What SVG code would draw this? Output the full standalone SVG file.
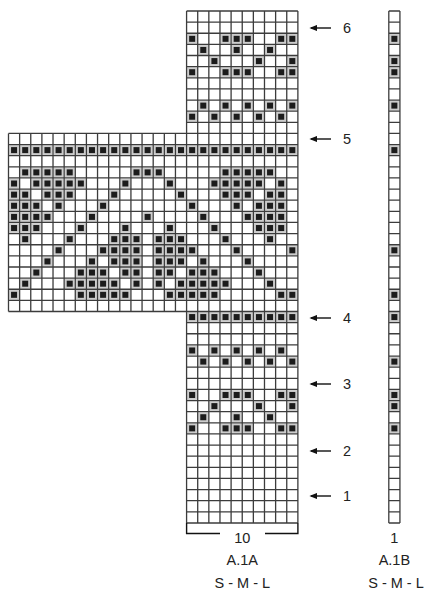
<svg xmlns="http://www.w3.org/2000/svg" xmlns:xlink="http://www.w3.org/1999/xlink" width="440" height="600" viewBox="0 0 440 600">
<style>
.grid{fill:none;stroke:#3c3c3c;stroke-width:1.3}
.t{font-family:"Liberation Sans",Arial,sans-serif;font-size:14.5px;fill:#222;text-anchor:middle}
.arr{stroke:#111;stroke-width:1.4;fill:none}
</style>
<defs>
<g id="m"><rect x="0.06" y="0.06" width="0.88" height="0.88" fill="#cdcdcd"/><rect x="0.23" y="0.23" width="0.54" height="0.54" fill="#1c1c1c"/></g>
<marker id="ah" viewBox="0 0 10 8" refX="8" refY="4" markerWidth="8" markerHeight="6.4" markerUnits="userSpaceOnUse" orient="auto"><path d="M0 0L10 4L0 8z" fill="#111"/></marker>
</defs>
<rect width="440" height="600" fill="#fff"/>
<g id="chartA1A" transform="translate(8.5 11) scale(11.13)">
<g id="marksA">
<use href="#m" x="16" y="2"/><use href="#m" x="19" y="2"/><use href="#m" x="20" y="2"/><use href="#m" x="21" y="2"/><use href="#m" x="24" y="2"/><use href="#m" x="25" y="2"/>
<use href="#m" x="17" y="3"/><use href="#m" x="20" y="3"/><use href="#m" x="23" y="3"/>
<use href="#m" x="18" y="4"/><use href="#m" x="22" y="4"/><use href="#m" x="25" y="4"/>
<use href="#m" x="16" y="5"/><use href="#m" x="19" y="5"/><use href="#m" x="20" y="5"/><use href="#m" x="21" y="5"/><use href="#m" x="24" y="5"/><use href="#m" x="25" y="5"/>
<use href="#m" x="17" y="8"/><use href="#m" x="19" y="8"/><use href="#m" x="21" y="8"/><use href="#m" x="23" y="8"/><use href="#m" x="25" y="8"/>
<use href="#m" x="16" y="9"/><use href="#m" x="18" y="9"/><use href="#m" x="20" y="9"/><use href="#m" x="22" y="9"/><use href="#m" x="24" y="9"/>
<use href="#m" x="0" y="12"/><use href="#m" x="1" y="12"/><use href="#m" x="2" y="12"/><use href="#m" x="3" y="12"/><use href="#m" x="4" y="12"/><use href="#m" x="5" y="12"/><use href="#m" x="6" y="12"/><use href="#m" x="7" y="12"/><use href="#m" x="8" y="12"/><use href="#m" x="9" y="12"/><use href="#m" x="10" y="12"/><use href="#m" x="11" y="12"/><use href="#m" x="12" y="12"/><use href="#m" x="13" y="12"/><use href="#m" x="14" y="12"/><use href="#m" x="15" y="12"/><use href="#m" x="16" y="12"/><use href="#m" x="17" y="12"/><use href="#m" x="18" y="12"/><use href="#m" x="19" y="12"/><use href="#m" x="20" y="12"/><use href="#m" x="21" y="12"/><use href="#m" x="22" y="12"/><use href="#m" x="23" y="12"/><use href="#m" x="24" y="12"/><use href="#m" x="25" y="12"/>
<use href="#m" x="1" y="14"/><use href="#m" x="2" y="14"/><use href="#m" x="3" y="14"/><use href="#m" x="4" y="14"/><use href="#m" x="5" y="14"/><use href="#m" x="11" y="14"/><use href="#m" x="12" y="14"/><use href="#m" x="13" y="14"/><use href="#m" x="19" y="14"/><use href="#m" x="20" y="14"/><use href="#m" x="21" y="14"/><use href="#m" x="22" y="14"/><use href="#m" x="23" y="14"/>
<use href="#m" x="0" y="15"/><use href="#m" x="2" y="15"/><use href="#m" x="3" y="15"/><use href="#m" x="4" y="15"/><use href="#m" x="5" y="15"/><use href="#m" x="6" y="15"/><use href="#m" x="10" y="15"/><use href="#m" x="14" y="15"/><use href="#m" x="18" y="15"/><use href="#m" x="19" y="15"/><use href="#m" x="20" y="15"/><use href="#m" x="21" y="15"/><use href="#m" x="22" y="15"/><use href="#m" x="24" y="15"/>
<use href="#m" x="0" y="16"/><use href="#m" x="1" y="16"/><use href="#m" x="3" y="16"/><use href="#m" x="4" y="16"/><use href="#m" x="5" y="16"/><use href="#m" x="9" y="16"/><use href="#m" x="15" y="16"/><use href="#m" x="19" y="16"/><use href="#m" x="20" y="16"/><use href="#m" x="21" y="16"/><use href="#m" x="23" y="16"/><use href="#m" x="24" y="16"/>
<use href="#m" x="0" y="17"/><use href="#m" x="1" y="17"/><use href="#m" x="2" y="17"/><use href="#m" x="4" y="17"/><use href="#m" x="8" y="17"/><use href="#m" x="16" y="17"/><use href="#m" x="20" y="17"/><use href="#m" x="22" y="17"/><use href="#m" x="23" y="17"/><use href="#m" x="24" y="17"/>
<use href="#m" x="0" y="18"/><use href="#m" x="1" y="18"/><use href="#m" x="2" y="18"/><use href="#m" x="3" y="18"/><use href="#m" x="7" y="18"/><use href="#m" x="12" y="18"/><use href="#m" x="17" y="18"/><use href="#m" x="21" y="18"/><use href="#m" x="22" y="18"/><use href="#m" x="23" y="18"/><use href="#m" x="24" y="18"/>
<use href="#m" x="0" y="19"/><use href="#m" x="1" y="19"/><use href="#m" x="2" y="19"/><use href="#m" x="6" y="19"/><use href="#m" x="10" y="19"/><use href="#m" x="14" y="19"/><use href="#m" x="18" y="19"/><use href="#m" x="22" y="19"/><use href="#m" x="23" y="19"/><use href="#m" x="24" y="19"/>
<use href="#m" x="1" y="20"/><use href="#m" x="5" y="20"/><use href="#m" x="9" y="20"/><use href="#m" x="10" y="20"/><use href="#m" x="11" y="20"/><use href="#m" x="13" y="20"/><use href="#m" x="14" y="20"/><use href="#m" x="15" y="20"/><use href="#m" x="19" y="20"/><use href="#m" x="23" y="20"/>
<use href="#m" x="4" y="21"/><use href="#m" x="8" y="21"/><use href="#m" x="9" y="21"/><use href="#m" x="10" y="21"/><use href="#m" x="11" y="21"/><use href="#m" x="13" y="21"/><use href="#m" x="14" y="21"/><use href="#m" x="15" y="21"/><use href="#m" x="16" y="21"/><use href="#m" x="20" y="21"/><use href="#m" x="25" y="21"/>
<use href="#m" x="3" y="22"/><use href="#m" x="7" y="22"/><use href="#m" x="9" y="22"/><use href="#m" x="10" y="22"/><use href="#m" x="11" y="22"/><use href="#m" x="13" y="22"/><use href="#m" x="14" y="22"/><use href="#m" x="15" y="22"/><use href="#m" x="17" y="22"/><use href="#m" x="21" y="22"/>
<use href="#m" x="2" y="23"/><use href="#m" x="6" y="23"/><use href="#m" x="7" y="23"/><use href="#m" x="8" y="23"/><use href="#m" x="10" y="23"/><use href="#m" x="11" y="23"/><use href="#m" x="13" y="23"/><use href="#m" x="14" y="23"/><use href="#m" x="16" y="23"/><use href="#m" x="17" y="23"/><use href="#m" x="18" y="23"/><use href="#m" x="22" y="23"/>
<use href="#m" x="1" y="24"/><use href="#m" x="5" y="24"/><use href="#m" x="6" y="24"/><use href="#m" x="7" y="24"/><use href="#m" x="8" y="24"/><use href="#m" x="9" y="24"/><use href="#m" x="11" y="24"/><use href="#m" x="13" y="24"/><use href="#m" x="15" y="24"/><use href="#m" x="16" y="24"/><use href="#m" x="17" y="24"/><use href="#m" x="18" y="24"/><use href="#m" x="19" y="24"/><use href="#m" x="23" y="24"/>
<use href="#m" x="0" y="25"/><use href="#m" x="6" y="25"/><use href="#m" x="7" y="25"/><use href="#m" x="8" y="25"/><use href="#m" x="9" y="25"/><use href="#m" x="10" y="25"/><use href="#m" x="14" y="25"/><use href="#m" x="15" y="25"/><use href="#m" x="16" y="25"/><use href="#m" x="17" y="25"/><use href="#m" x="18" y="25"/><use href="#m" x="24" y="25"/><use href="#m" x="25" y="25"/>
<use href="#m" x="16" y="27"/><use href="#m" x="17" y="27"/><use href="#m" x="18" y="27"/><use href="#m" x="19" y="27"/><use href="#m" x="20" y="27"/><use href="#m" x="21" y="27"/><use href="#m" x="22" y="27"/><use href="#m" x="23" y="27"/><use href="#m" x="24" y="27"/><use href="#m" x="25" y="27"/>
<use href="#m" x="16" y="30"/><use href="#m" x="18" y="30"/><use href="#m" x="20" y="30"/><use href="#m" x="22" y="30"/><use href="#m" x="24" y="30"/>
<use href="#m" x="17" y="31"/><use href="#m" x="19" y="31"/><use href="#m" x="21" y="31"/><use href="#m" x="23" y="31"/><use href="#m" x="25" y="31"/>
<use href="#m" x="16" y="34"/><use href="#m" x="19" y="34"/><use href="#m" x="20" y="34"/><use href="#m" x="21" y="34"/><use href="#m" x="24" y="34"/><use href="#m" x="25" y="34"/>
<use href="#m" x="18" y="35"/><use href="#m" x="22" y="35"/><use href="#m" x="25" y="35"/>
<use href="#m" x="17" y="36"/><use href="#m" x="20" y="36"/><use href="#m" x="23" y="36"/>
<use href="#m" x="16" y="37"/><use href="#m" x="19" y="37"/><use href="#m" x="20" y="37"/><use href="#m" x="21" y="37"/><use href="#m" x="24" y="37"/><use href="#m" x="25" y="37"/>
</g>
<path class="grid" vector-effect="non-scaling-stroke" d="M16 0V46M17 0V46M18 0V46M19 0V46M20 0V46M21 0V46M22 0V46M23 0V46M24 0V46M25 0V46M26 0V46M0 11V27M1 11V27M2 11V27M3 11V27M4 11V27M5 11V27M6 11V27M7 11V27M8 11V27M9 11V27M10 11V27M11 11V27M12 11V27M13 11V27M14 11V27M15 11V27M16 0H26M16 1H26M16 2H26M16 3H26M16 4H26M16 5H26M16 6H26M16 7H26M16 8H26M16 9H26M16 10H26M0 11H26M0 12H26M0 13H26M0 14H26M0 15H26M0 16H26M0 17H26M0 18H26M0 19H26M0 20H26M0 21H26M0 22H26M0 23H26M0 24H26M0 25H26M0 26H26M0 27H26M16 28H26M16 29H26M16 30H26M16 31H26M16 32H26M16 33H26M16 34H26M16 35H26M16 36H26M16 37H26M16 38H26M16 39H26M16 40H26M16 41H26M16 42H26M16 43H26M16 44H26M16 45H26M16 46H26"/>
</g>
<g id="chartA1B" transform="translate(388.8 11) scale(11.13)">
<g id="marksB">
<use href="#m" x="0" y="2"/><use href="#m" x="0" y="4"/><use href="#m" x="0" y="5"/><use href="#m" x="0" y="8"/><use href="#m" x="0" y="12"/><use href="#m" x="0" y="21"/><use href="#m" x="0" y="25"/><use href="#m" x="0" y="27"/><use href="#m" x="0" y="31"/><use href="#m" x="0" y="34"/><use href="#m" x="0" y="35"/><use href="#m" x="0" y="37"/>
</g>
<path class="grid" vector-effect="non-scaling-stroke" d="M0 0V46M1 0V46M0 0H1M0 1H1M0 2H1M0 3H1M0 4H1M0 5H1M0 6H1M0 7H1M0 8H1M0 9H1M0 10H1M0 11H1M0 12H1M0 13H1M0 14H1M0 15H1M0 16H1M0 17H1M0 18H1M0 19H1M0 20H1M0 21H1M0 22H1M0 23H1M0 24H1M0 25H1M0 26H1M0 27H1M0 28H1M0 29H1M0 30H1M0 31H1M0 32H1M0 33H1M0 34H1M0 35H1M0 36H1M0 37H1M0 38H1M0 39H1M0 40H1M0 41H1M0 42H1M0 43H1M0 44H1M0 45H1M0 46H1"/>
</g>
<g id="connectors">
<line class="arr" x1="331" y1="28" x2="311" y2="28" marker-end="url(#ah)"/>
<line class="arr" x1="331" y1="139" x2="311" y2="139" marker-end="url(#ah)"/>
<line class="arr" x1="331" y1="318" x2="311" y2="318" marker-end="url(#ah)"/>
<line class="arr" x1="331" y1="384" x2="311" y2="384" marker-end="url(#ah)"/>
<line class="arr" x1="331" y1="451" x2="311" y2="451" marker-end="url(#ah)"/>
<line class="arr" x1="331" y1="496" x2="311" y2="496" marker-end="url(#ah)"/>
<path class="arr" d="M186.6 523V533.5H220M265 533.5H297.9V523" stroke="#333"/>
</g>
<g id="rowLabels">
<text class="t" x="347" y="33">6</text>
<text class="t" x="347" y="144">5</text>
<text class="t" x="347" y="323">4</text>
<text class="t" x="347" y="389">3</text>
<text class="t" x="347" y="456">2</text>
<text class="t" x="347" y="501">1</text>
</g>
<g id="captionA1A">
<text class="t" x="242.3" y="543">10</text>
<text class="t" x="242.3" y="565">A.1A</text>
<text class="t" x="242.3" y="588">S - M - L</text>
</g>
<g id="captionA1B">
<text class="t" x="394.4" y="543">1</text>
<text class="t" x="394.4" y="565">A.1B</text>
<text class="t" x="396" y="588">S - M - L</text>
</g>
</svg>
